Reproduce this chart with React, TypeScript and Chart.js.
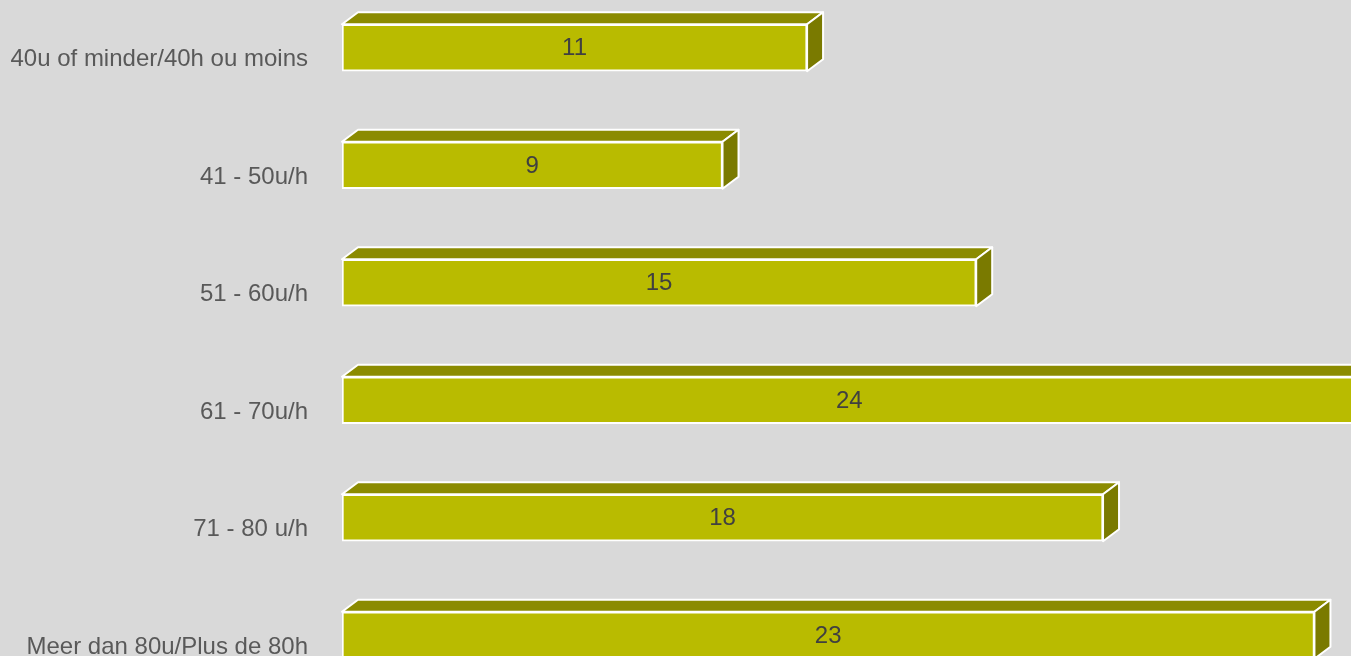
import { useEffect, useRef } from 'react';
import { Chart, registerables } from 'chart.js';

Chart.register(...registerables);

const categories = [
  '40u of minder/40h ou moins',
  '41 - 50u/h',
  '51 - 60u/h',
  '61 - 70u/h',
  '71 - 80 u/h',
  'Meer dan 80u/Plus de 80h',
];
const values = [11, 9, 15, 24, 18, 23];

const FRONT = '#b9bb00';
const TOP = '#8b8b00';
const SIDE = '#7a7a00';
const DX = 16;
const DY = 12;
const FONT = '"Liberation Sans", Arial, Helvetica, sans-serif';

const bar3d = {
  id: 'bar3d',
  afterDatasetsDraw(chart: any) {
    const ctx = chart.ctx;
    const meta = chart.getDatasetMeta(0);
    ctx.save();
    meta.data.forEach((el: any, i: number) => {
      const { x, y, base, height } = el.getProps(['x', 'y', 'base', 'height'], true);
      const left = base;
      const right = x;
      const top = y - height / 2;
      const bottom = y + height / 2;
      ctx.lineWidth = 2;
      ctx.strokeStyle = '#ffffff';
      ctx.lineJoin = 'round';
      // top face
      ctx.beginPath();
      ctx.moveTo(left, top);
      ctx.lineTo(left + DX, top - DY);
      ctx.lineTo(right + DX, top - DY);
      ctx.lineTo(right, top);
      ctx.closePath();
      ctx.fillStyle = TOP;
      ctx.fill();
      ctx.stroke();
      // side face
      ctx.beginPath();
      ctx.moveTo(right, top);
      ctx.lineTo(right + DX, top - DY);
      ctx.lineTo(right + DX, bottom - DY);
      ctx.lineTo(right, bottom);
      ctx.closePath();
      ctx.fillStyle = SIDE;
      ctx.fill();
      ctx.stroke();
      // value label
      ctx.fillStyle = '#404040';
      ctx.font = `24px ${FONT}`;
      ctx.textAlign = 'center';
      ctx.textBaseline = 'middle';
      ctx.fillText(String(values[i]), (left + right) / 2, y + 1);
    });
    ctx.restore();
  },
};

export default function App() {
  const ref = useRef<HTMLCanvasElement>(null);

  useEffect(() => {
    if (!ref.current) return;
    const chart = new Chart(ref.current, {
      type: 'bar',
      data: {
        labels: categories,
        datasets: [
          {
            data: values,
            backgroundColor: FRONT,
            borderColor: '#ffffff',
            borderWidth: 2,
            borderSkipped: false,
            barThickness: 47,
          },
        ],
      },
      options: {
        indexAxis: 'y',
        responsive: false,
        animation: false,
        layout: { padding: { left: 0, right: 1, top: 0, bottom: 0 } },
        plugins: {
          legend: { display: false },
          tooltip: { enabled: false },
        },
        scales: {
          x: { display: false, min: 0, max: 25 },
          y: {
            grid: { display: false, drawTicks: false },
            border: { display: false },
            ticks: {
              color: '#595959',
              font: { family: FONT, size: 24 },
              padding: 34,
              labelOffset: 12,
            },
            afterFit: (scale: any) => {
              scale.width = 342;
              scale.paddingTop = 0;
              scale.paddingBottom = 0;
            },
          },
        },
      },
      plugins: [bar3d],
    });
    return () => chart.destroy();
  }, []);

  return (
    <div
      style={{
        position: 'fixed',
        left: 0,
        top: 0,
        width: 1351,
        height: 656,
        overflow: 'hidden',
        background: '#d9d9d9',
      }}
    >
      <div style={{ position: 'absolute', left: 0, top: -11, width: 1400, height: 705 }}>
        <canvas ref={ref} width={1400} height={705} style={{ display: 'block' }} />
      </div>
    </div>
  );
}
